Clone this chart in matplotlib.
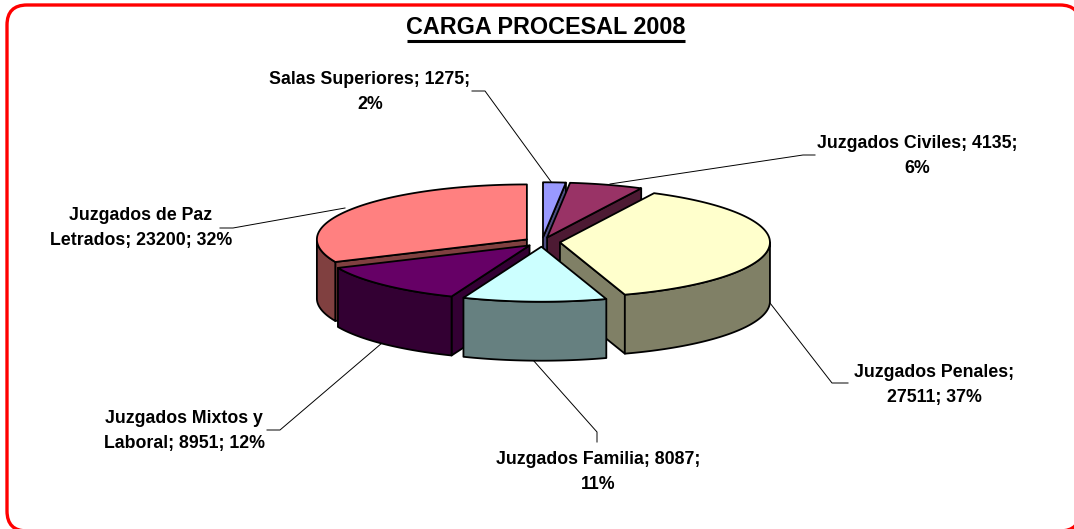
import numpy as np
import matplotlib
matplotlib.use("Agg")
import matplotlib.pyplot as plt
from matplotlib.patches import FancyBboxPatch

# values
names = ["Salas Superiores", "Juzgados Civiles", "Juzgados Penales",
         "Juzgados Familia", "Juzgados Mixtos y Laboral", "Juzgados de Paz Letrados"]
values = [1275, 4135, 27511, 8087, 8951, 23200]
percents = [2, 6, 37, 11, 12, 32]
top_colors = ["#9999FF", "#993366", "#FFFFCC", "#CCFFFF", "#660066", "#FF8080"]
title = "CARGA PROCESAL 2008"

# label text, wrapped the way the chart wraps it
label_texts = [
    f"{names[0]}; {values[0]};\n{percents[0]}%",
    f"{names[1]}; {values[1]};\n{percents[1]}%",
    f"{names[2]};\n{values[2]}; {percents[2]}%",
    f"{names[3]}; {values[3]};\n{percents[3]}%",
    f"Juzgados Mixtos y\nLaboral; {values[4]}; {percents[4]}%",
    f"Juzgados de Paz\nLetrados; {values[5]}; {percents[5]}%",
]

# layout in pixels
label_pos = [(370, 92), (917, 156), (934, 385), (598, 472), (184, 431), (141, 228)]
leader_x = [[472, 485, 552], [815, 803, 610], [848, 832, 770], [597, 597, 533], [267, 280, 382], [220, 233, 345]]
leader_y = [[91, 91, 183], [155, 155, 184], [383, 383, 303], [442, 432, 360], [430, 430, 343], [228, 228, 208]]
cx, cy = 542, 242
rx, ry = 210, 55
depth = 59
explode = 18


def darken(color):
    r, g, b = matplotlib.colors.to_rgb(color)
    return (r * 0.5, g * 0.5, b * 0.5)


def point(ax0, ay0, ang):
    # angle in radians, clockwise from twelve o'clock
    return ax0 + rx * np.sin(ang), ay0 - ry * np.cos(ang)


fig = plt.figure(figsize=(10.74, 5.29), dpi=100)
ax = fig.add_axes([0, 0, 1, 1])
ax.set_xlim(0, 1074)
ax.set_ylim(529, 0)
ax.axis("off")

# red rounded border, runs off the right and bottom of the picture
ax.add_patch(FancyBboxPatch((7, 5), 1073, 526, boxstyle="round,pad=0,rounding_size=20",
                            fc="white", ec="#FF0000", lw=2.4, zorder=0))

total = sum(values)
edges = np.cumsum([0] + values) / total * 2 * np.pi
mids = (edges[:-1] + edges[1:]) / 2
order = np.argsort(-np.abs(mids - np.pi))

# leader lines sit below the slices
for xs, ys in zip(leader_x, leader_y):
    ax.plot(xs, ys, color="black", lw=0.7, zorder=1)

z = 2
for i in order:
    a0, a1 = edges[i], edges[i + 1]
    m = mids[i]
    ox = cx + explode * np.sin(m)
    oy = cy - explode * ry / rx * np.cos(m)
    side = darken(top_colors[i])
    style = dict(ec="black", lw=1.3, joinstyle="round", zorder=z)

    # cut faces, only those turned to the viewer
    for edge, visible in ((a0, np.sin(a0) < 0), (a1, np.sin(a1) > 0)):
        if visible:
            px, py = point(ox, oy, edge)
            ax.fill([ox, px, px, ox], [oy, py, py + depth, oy + depth], fc=side, **style)

    # outer wall, front half of the arc only
    lo, hi = max(a0, np.pi / 2), min(a1, 3 * np.pi / 2)
    if hi > lo:
        t = np.linspace(lo, hi, 80)
        px, py = point(ox, oy, t)
        ax.fill(np.r_[px, px[::-1]], np.r_[py, py[::-1] + depth], fc=side, **style)

    # top face
    t = np.linspace(a0, a1, 120)
    px, py = point(ox, oy, t)
    ax.fill(np.r_[ox, px], np.r_[oy, py], fc=top_colors[i], **style)
    z += 1

font = ["Liberation Sans", "DejaVu Sans"]
for text, (x, y) in zip(label_texts, label_pos):
    ax.text(x, y, text, ha="center", va="center", family=font, weight="bold",
            fontsize=12.8, linespacing=1.68, color="black", zorder=20)

ax.text(546, 28, title, ha="center", va="center", family=font, weight="bold",
        fontsize=16.8, color="black", zorder=20)
ax.plot([407, 685], [41, 41], color="black", lw=2.2, solid_capstyle="butt", zorder=20)

plt.savefig("out.png", dpi=100)
